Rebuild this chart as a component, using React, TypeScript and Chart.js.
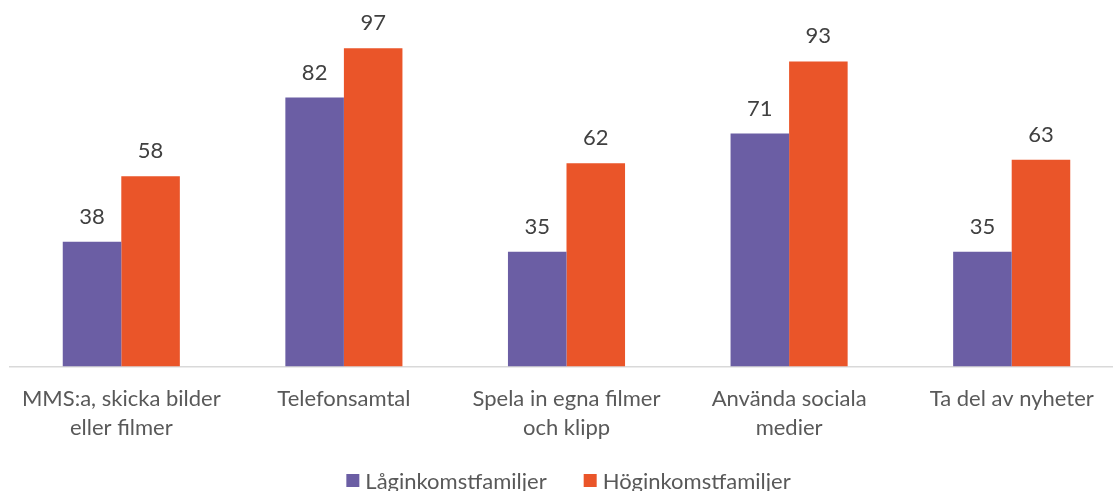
import React, { useEffect, useRef } from "react";
import { Chart, registerables } from "chart.js";

Chart.register(...registerables);

const categories: (string | string[])[] = [
  ["MMS:a, skicka bilder", "eller filmer"],
  "Telefonsamtal",
  ["Spela in egna filmer", "och klipp"],
  ["Använda sociala", "medier"],
  "Ta del av nyheter",
];
const seriesNames = ["Låginkomstfamiljer", "Höginkomstfamiljer"];
const lowIncome = [38, 82, 35, 71, 35];
const highIncome = [58, 97, 62, 93, 63];
const seriesColors = ["#6B5EA4", "#EA5529"];

const FONT = "Lato, 'Open Sans', sans-serif";

const valueLabels = {
  id: "valueLabels",
  afterDatasetsDraw(chart: any) {
    const ctx = chart.ctx;
    ctx.save();
    ctx.font = `22px ${FONT}`;
    ctx.fillStyle = "#404040";
    ctx.textAlign = "center";
    ctx.textBaseline = "alphabetic";
    chart.data.datasets.forEach((ds: any, i: number) => {
      const meta = chart.getDatasetMeta(i);
      meta.data.forEach((el: any, j: number) => {
        ctx.fillText(String(ds.data[j]), el.x, el.y - 18);
      });
    });
    ctx.restore();
  },
};

const bottomLegend = {
  id: "bottomLegend",
  afterDraw(chart: any) {
    const ctx = chart.ctx;
    ctx.save();
    ctx.font = `22px ${FONT}`;
    const box = 13;
    const gapBoxText = 6;
    const gapItems = 37;
    const labels: string[] = chart.data.datasets.map((ds: any) => ds.label);
    const widths = labels.map((l) => ctx.measureText(l).width);
    const total =
      widths.reduce((a: number, w: number) => a + box + gapBoxText + w, 0) +
      gapItems * (widths.length - 1);
    const ca = chart.chartArea;
    let x = (ca.left + ca.right) / 2 + 2 - total / 2;
    const baseline = 489;
    labels.forEach((l, i) => {
      ctx.fillStyle = chart.data.datasets[i].backgroundColor;
      ctx.fillRect(x, 474, box, box);
      x += box + gapBoxText;
      ctx.fillStyle = "#595959";
      ctx.textAlign = "left";
      ctx.textBaseline = "alphabetic";
      ctx.fillText(l, x, baseline);
      x += widths[i] + gapItems;
    });
    ctx.restore();
  },
};

export default function App() {
  const ref = useRef<HTMLCanvasElement | null>(null);

  useEffect(() => {
    if (!ref.current) return;
    const chart = new Chart(ref.current, {
      type: "bar",
      data: {
        labels: categories,
        datasets: [
          {
            label: seriesNames[0],
            data: lowIncome,
            backgroundColor: seriesColors[0],
            categoryPercentage: 0.526,
            barPercentage: 1,
          },
          {
            label: seriesNames[1],
            data: highIncome,
            backgroundColor: seriesColors[1],
            categoryPercentage: 0.526,
            barPercentage: 1,
          },
        ],
      },
      options: {
        responsive: false,
        animation: false,
        devicePixelRatio: 1,
        layout: { padding: { left: 10, right: 10, top: 38.5, bottom: 0 } },
        plugins: {
          legend: { display: false },
          tooltip: { enabled: false },
        },
        scales: {
          x: {
            grid: { display: false, drawTicks: false },
            border: { display: true, color: "#D9D9D9", width: 1.5 },
            ticks: {
              font: { family: FONT, size: 22, lineHeight: 29 / 22 },
              color: "#595959",
              padding: 18,
              maxRotation: 0,
              autoSkip: false,
            },
            afterFit: (s: any) => {
              s.height = 124.5;
            },
          },
          y: { display: false, min: 0, max: 100 },
        },
      },
      plugins: [valueLabels, bottomLegend],
    });
    return () => chart.destroy();
  }, []);

  return (
    <div
      style={{
        position: "fixed",
        left: 0,
        top: 0,
        width: 1113,
        height: 491,
        overflow: "hidden",
        background: "#fff",
      }}
    >
      <canvas ref={ref} width={1133} height={491} style={{ display: "block" }} />
    </div>
  );
}
